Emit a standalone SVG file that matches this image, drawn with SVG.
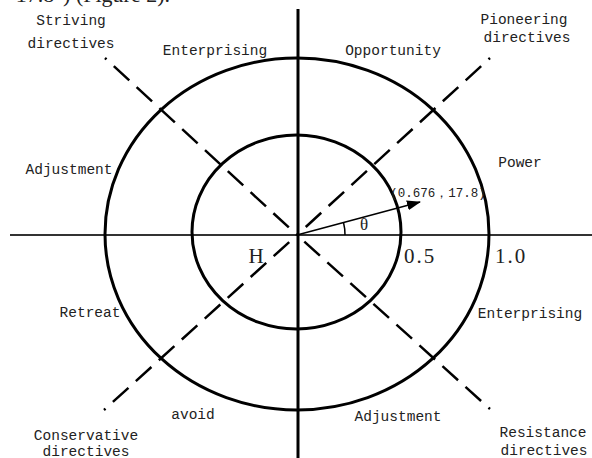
<svg xmlns="http://www.w3.org/2000/svg" width="592" height="458" viewBox="0 0 592 458">
<style>
.t{font-family:"Liberation Mono","Noto Sans CJK SC",monospace;font-size:14.5px;fill:#222}
.big{font-family:"Liberation Serif","Noto Sans CJK SC",serif;font-size:21px;fill:#222}
.ring{fill:none;stroke:#000;stroke-width:3}
.dash{stroke:#000;stroke-width:2.5;stroke-dasharray:21 10;fill:none}
</style>
<defs>
<marker id="ah" markerWidth="14" markerHeight="10" refX="13" refY="5" orient="auto" markerUnits="userSpaceOnUse">
<path d="M0,0 L14,5 L0,10 z" fill="#000"/>
</marker>
</defs>
<rect width="592" height="458" fill="#fff"/>
<text x="170" y="2" text-anchor="end" font-family="Liberation Serif,serif" font-size="22" fill="#222">17.8°) (Figure 2).</text>
<g id="connectors">
<line x1="10" y1="235" x2="592" y2="235" stroke="#333" stroke-width="2"/>
<line x1="298" y1="9" x2="298" y2="458" stroke="#000" stroke-width="3"/>
<path class="dash" d="M105,58 L297,235" stroke-dashoffset="19"/>
<path class="dash" d="M490,58 L297,235" stroke-dashoffset="19"/>
<path class="dash" d="M104,410 L297,235" stroke-dashoffset="19"/>
<path class="dash" d="M490,409 L297,235" stroke-dashoffset="19"/>
<line x1="297" y1="235" x2="420" y2="202" stroke="#000" stroke-width="1.5" marker-end="url(#ah)"/>
<path d="M345,235 A48,48 0 0 0 343.5,222.5" fill="none" stroke="#000" stroke-width="1.5"/>
</g>
<g id="outer"><ellipse class="ring" cx="297" cy="234" rx="192" ry="176"/></g>
<g id="inner"><ellipse class="ring" cx="296.5" cy="232" rx="104.5" ry="97"/></g>
<g id="labels">
<text class="t" x="71" y="25" text-anchor="middle">Striving</text>
<text class="t" x="71" y="48" text-anchor="middle">directives</text>
<text class="t" x="215" y="55" text-anchor="middle">Enterprising</text>
<text class="t" x="393" y="55" text-anchor="middle">Opportunity</text>
<text class="t" x="524" y="24" text-anchor="middle">Pioneering</text>
<text class="t" x="527" y="42" text-anchor="middle">directives</text>
<text class="t" x="69" y="174" text-anchor="middle">Adjustment</text>
<text class="t" x="520" y="167" text-anchor="middle">Power</text>
<text x="438" y="197" text-anchor="middle" font-family="Liberation Mono,monospace" font-size="12.5" fill="#222">(0.676，17.8)</text>
<text x="364" y="230" text-anchor="middle" font-family="Liberation Serif,serif" font-size="17" fill="#222">θ</text>
<text class="big" x="256" y="263" text-anchor="middle">H</text>
<text class="big" x="420" y="263" text-anchor="middle" letter-spacing="2">0.5</text>
<text class="big" x="511" y="263" text-anchor="middle" letter-spacing="2">1.0</text>
<text class="t" x="90" y="317" text-anchor="middle">Retreat</text>
<text class="t" x="530" y="318" text-anchor="middle">Enterprising</text>
<text class="t" x="193" y="419" text-anchor="middle">avoid</text>
<text class="t" x="398" y="421" text-anchor="middle">Adjustment</text>
<text class="t" x="86" y="440" text-anchor="middle">Conservative</text>
<text class="t" x="86" y="456" text-anchor="middle">directives</text>
<text class="t" x="543" y="437" text-anchor="middle">Resistance</text>
<text class="t" x="544" y="455" text-anchor="middle">directives</text>
</g>
</svg>
